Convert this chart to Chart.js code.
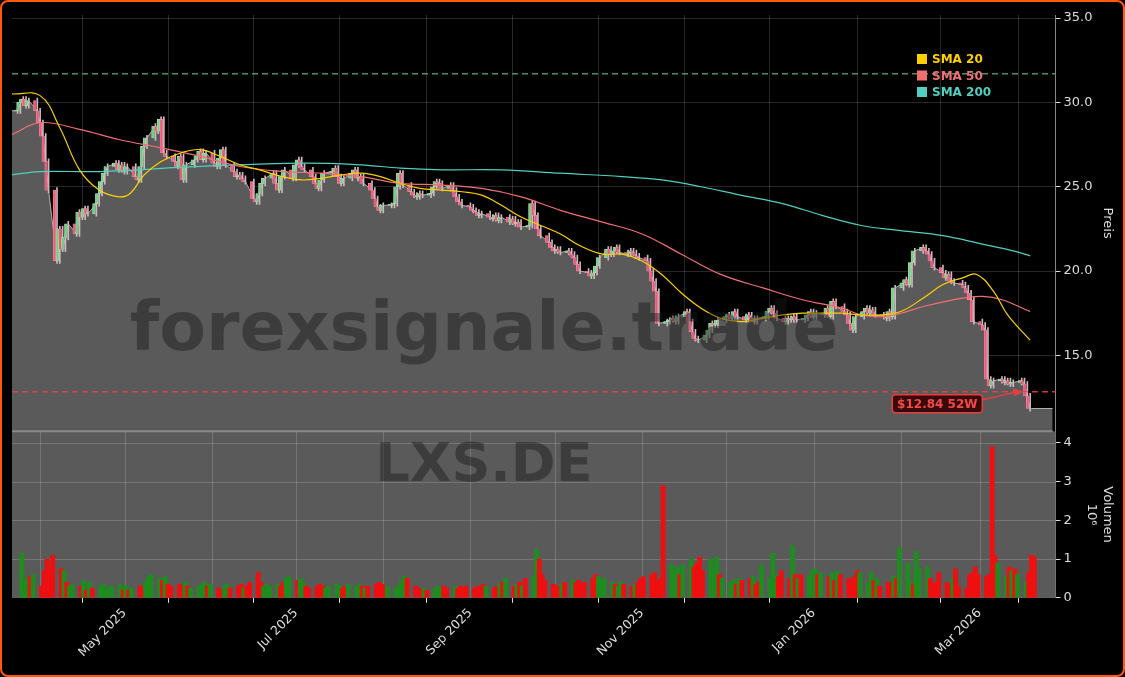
<!DOCTYPE html>
<html>
<head>
<meta charset="utf-8">
<script src="https://cdn.jsdelivr.net/npm/chart.js@4"></script>
<style>
  html, body { margin: 0; padding: 0; background: #000; }
  #wrap { position: absolute; left: 0; top: 0; width: 1121px; height: 673px; border: 2px solid #ff5a0a; border-radius: 8px; background: #000; overflow: hidden; }
  canvas { display: block; }
</style>
</head>
<body>
<div id="wrap"><canvas id="myChart" width="1121" height="673"></canvas></div>
<script>
// day 0 = 2025-03-22 ; first trading day Mon 2025-03-24
const startDate = new Date(Date.UTC(2025, 2, 22));

// daily closes, grouped per week (Mon..Fri)
const closes = [
  29.5, 30.0, 30.2, 29.8, 30.1,
  29.5, 28.8, 28.0, 26.5, 24.8,
  20.6, 22.5, 21.3, 22.0, 22.8,
  22.2, 23.5, 23.2, 23.7, 23.4,
  24.0, 24.6, 25.3, 25.8, 26.2,
  26.4, 26.0, 26.3, 25.9, 26.2,
  25.6, 25.4, 26.2, 27.4, 27.9,
  28.6, 28.3, 29.0, 27.0, 26.8,
  26.5, 26.2, 26.8, 25.4, 26.3,
  26.6, 26.8, 27.1, 26.6, 27.0,
  26.4, 26.2, 26.7, 27.2, 26.3,
  25.9, 25.6, 25.7, 25.5, 25.3,
  24.3, 24.1, 24.6, 25.2, 25.5,
  25.8, 25.2, 24.8, 25.6, 26.0,
  25.5, 26.3, 26.6, 26.2, 26.0,
  25.6, 25.2, 24.9, 25.4, 25.8,
  25.9, 26.1, 25.6, 25.2, 25.5,
  25.8, 26.0, 25.5, 25.6, 25.2,
  24.8, 24.3, 23.8, 23.6, 23.9,
  23.9, 24.0, 25.0, 25.8, 25.1,
  24.7, 24.5, 24.4, 24.6, 24.5,
  24.6, 25.0, 25.3, 25.2, 24.9,
  25.1, 24.8, 24.4, 24.1, 23.9,
  23.8, 23.6, 23.5, 23.3, 23.4,
  23.2, 23.1, 23.3, 23.0, 23.2,
  22.9, 23.1, 22.8, 22.9, 22.6,
  22.7, 24.0, 23.3, 22.5, 22.1,
  21.7, 21.4, 21.2, 21.3, 21.1,
  21.2, 21.0, 20.8, 20.4, 20.0,
  19.9, 19.7, 19.9, 20.3, 20.8,
  21.3, 21.0, 21.2, 21.4, 21.1,
  21.0, 21.2, 21.1, 20.9, 20.8,
  20.6, 20.0, 19.4, 18.8, 16.9,
  17.0, 17.1, 17.2, 17.0, 17.3,
  17.6, 17.0, 16.4, 16.0, 15.9,
  16.2, 16.5, 16.9, 16.8, 17.1,
  17.3, 17.4, 17.2, 17.6, 17.3,
  17.1, 17.4, 17.2, 17.0, 17.2,
  17.3, 17.6, 17.8, 17.5, 17.2,
  17.0, 17.2, 17.1, 17.3, 17.1,
  17.2, 17.4, 17.6, 17.3, 17.5,
  17.4, 17.8, 17.3, 18.2, 17.9,
  17.6, 17.4, 16.9, 16.5, 17.3,
  17.6, 17.8, 17.5, 17.7, 17.4,
  17.3, 17.2, 17.6, 17.3, 19.0,
  19.3, 19.5, 19.2, 20.5, 21.2,
  21.4, 21.2, 21.0, 20.6, 20.2,
  19.9, 19.6, 19.8, 19.4, 19.3,
  19.2, 19.0, 18.7, 18.3, 17.0,
  16.8, 16.5, 13.6, 13.2, 13.5,
  13.6, 13.4, 13.5, 13.3, 13.4,
  13.5, 13.3, 12.6, 11.85
];

// daily volume in millions
const volumes = [
  1.15, 0.45, 0.5, 0.55, 0.6,
  0.3, 0.7, 1.0, 0.8, 1.1,
  0.75, 0.7, 0.4, 0.3, 0.35,
  0.3, 0.45, 0.2, 0.4, 0.25,
  0.3, 0.35, 0.2, 0.25, 0.3,
  0.35, 0.2, 0.3, 0.2, 0.25,
  0.3, 0.25, 0.4, 0.55, 0.6,
  0.5, 0.45, 0.55, 0.35, 0.3,
  0.35, 0.3, 0.4, 0.3, 0.25,
  0.3, 0.35, 0.4, 0.3, 0.35,
  0.25, 0.2, 0.3, 0.35, 0.25,
  0.3, 0.35, 0.25, 0.3, 0.4,
  0.65, 0.4, 0.3, 0.35, 0.3,
  0.35, 0.3, 0.4, 0.5, 0.55,
  0.45, 0.5, 0.4, 0.3, 0.25,
  0.3, 0.35, 0.3, 0.25, 0.3,
  0.35, 0.3, 0.25, 0.3, 0.35,
  0.3, 0.35, 0.3, 0.25, 0.3,
  0.35, 0.4, 0.35, 0.3, 0.3,
  0.25, 0.3, 0.45, 0.55, 0.5,
  0.3, 0.25, 0.2, 0.25, 0.2,
  0.25, 0.3, 0.25, 0.3, 0.25,
  0.3, 0.25, 0.3, 0.25, 0.3,
  0.25, 0.3, 0.25, 0.35, 0.3,
  0.25, 0.3, 0.35, 0.4, 0.5,
  0.3, 0.35, 0.4, 0.3, 0.5,
  0.55, 1.25, 1.0, 0.6, 0.45,
  0.35, 0.3, 0.3, 0.35, 0.4,
  0.45, 0.4, 0.45, 0.35, 0.4,
  0.5, 0.6, 0.55, 0.45, 0.5,
  0.4, 0.35, 0.3, 0.4, 0.35,
  0.3, 0.35, 0.4, 0.5, 0.55,
  0.6, 0.65, 0.4, 0.5, 2.9,
  0.85, 0.75, 0.8, 0.6, 0.85,
  1.0, 0.8, 0.9, 1.05, 0.7,
  1.0, 0.75, 1.05, 0.6, 0.5,
  0.4, 0.45, 0.35, 0.5, 0.45,
  0.5, 0.55, 0.35, 0.4, 0.85,
  0.5, 1.15, 0.6, 0.55, 0.7,
  0.5, 1.35, 0.6, 0.5, 0.6,
  0.55, 0.7, 0.75, 0.6, 0.65,
  0.55, 0.65, 0.45, 0.7, 0.6,
  0.5, 0.45, 0.55, 0.7, 0.65,
  0.4, 0.65, 0.45, 0.5, 0.3,
  0.4, 0.4, 0.55, 0.5, 1.3,
  0.9, 0.4, 0.35, 1.2, 0.75,
  0.8, 0.5, 0.35, 0.4, 0.65,
  0.4, 0.3, 0.5, 0.75, 0.3,
  0.25, 0.6, 0.65, 0.8, 0.6,
  0.55, 0.6, 3.9, 1.1, 0.9,
  0.55, 0.8, 0.7, 0.75, 0.6,
  0.4, 0.65, 1.1, 1.05
];

// moving averages (day, value)
const sma20Days = [0, 10, 17, 24, 31, 38, 42, 47, 53, 60, 67, 74, 81, 88, 96, 103, 110, 117, 124, 131, 138, 145, 153, 160, 167, 174, 181, 188, 195, 202, 210, 217, 224, 231, 238, 245, 252, 259, 267, 274, 281, 288, 295, 302, 309, 316, 324, 331, 338, 343, 349, 354, 362];
const sma20Vals = [30.5, 30.4, 28.5, 26.0, 24.8, 24.4, 24.6, 25.7, 26.5, 27.0, 27.2, 26.8, 26.3, 26.0, 25.6, 25.4, 25.5, 25.7, 25.8, 25.6, 25.2, 24.9, 24.8, 24.7, 24.5, 23.9, 23.2, 22.7, 22.2, 21.5, 21.0, 21.0, 20.6, 19.8, 18.7, 17.8, 17.2, 17.0, 17.2, 17.4, 17.5, 17.5, 17.5, 17.4, 17.4, 17.6, 18.4, 19.2, 19.6, 19.8, 18.8, 17.4, 15.9];
const sma50Days = [0, 10, 24, 38, 53, 67, 81, 96, 110, 124, 138, 153, 167, 181, 195, 210, 224, 238, 252, 267, 281, 295, 302, 309, 316, 324, 338, 345, 352, 362];
const sma50Vals = [28.1, 28.8, 28.4, 27.8, 27.3, 26.8, 26.2, 25.9, 25.8, 25.6, 25.2, 25.1, 24.9, 24.4, 23.6, 22.9, 22.2, 21.0, 19.8, 19.0, 18.3, 17.8, 17.4, 17.3, 17.5, 17.9, 18.4, 18.5, 18.3, 17.6];
const sma200Days = [0, 10, 31, 67, 103, 124, 138, 153, 174, 195, 217, 231, 245, 259, 274, 288, 302, 316, 331, 345, 356, 362];
const sma200Vals = [25.7, 25.9, 25.9, 26.2, 26.4, 26.3, 26.1, 26.0, 26.0, 25.8, 25.6, 25.4, 25.0, 24.5, 24.0, 23.3, 22.7, 22.4, 22.1, 21.6, 21.2, 20.9];

const high52 = 31.7;
const low52 = 12.84;
const lastDay = 370;   // fill of the price area runs until here
const wick = 0.15;

function tradingDay(i) { return 2 + 7 * Math.floor(i / 5) + (i % 5); }
function dayOf(y, m) { return Math.round((Date.UTC(y, m, 1) - startDate) / 86400000); }
const monthNames = ['Jan','Feb','Mar','Apr','May','Jun','Jul','Aug','Sep','Oct','Nov','Dec'];
const monthTicks = [];
for (let k = 0; k < 12; k++) {
  const y = 2025 + Math.floor((3 + k) / 12), m = (3 + k) % 12;
  monthTicks.push({ value: dayOf(y, m), label: (m % 2 === 0) ? monthNames[m] + ' ' + y : '' });
}

const days = closes.map((c, i) => tradingDay(i));
const opens = closes.map((c, i) => i === 0 ? c : closes[i - 1]);
const up = closes.map((c, i) => c >= opens[i]);

const areaData = [{ x: 0, y: closes[0] }].concat(days.map((d, i) => ({ x: d, y: closes[i] })));
areaData.push({ x: days[days.length - 1] + 0.5, y: closes[closes.length - 1] });
areaData.push({ x: lastDay, y: closes[closes.length - 1] });

const bodyData = days.map((d, i) => ({ x: d, y: [opens[i], closes[i] === opens[i] ? closes[i] + 0.05 : closes[i]] }));
const wickData = days.map((d, i) => ({ x: d, y: [Math.min(opens[i], closes[i]) - wick, Math.max(opens[i], closes[i]) + wick] }));
const volData = days.map((d, i) => ({ x: d, y: volumes[i] }));
const pairs = (ds, vs) => ds.map((d, i) => ({ x: d, y: vs[i] }));

const volPanelPlugin = {
  id: 'volPanel',
  beforeDatasetsDraw(chart) {
    const ctx = chart.ctx, v = chart.scales.vol, x = chart.scales.x;
    ctx.save();
    ctx.fillStyle = '#5a5a5a';
    ctx.fillRect(x.left, v.top, x.right - x.left, v.bottom - v.top);
    ctx.strokeStyle = 'rgba(200,200,200,0.25)';
    ctx.lineWidth = 1;
    monthTicks.forEach(t => {
      const px = Math.round(x.getPixelForValue(t.value)) + 0.5;
      ctx.beginPath(); ctx.moveTo(px, v.top); ctx.lineTo(px, v.bottom); ctx.stroke();
    });
    [1, 2, 3, 4].forEach(t => {
      const py = Math.round(v.getPixelForValue(t)) + 0.5;
      ctx.beginPath(); ctx.moveTo(x.left, py); ctx.lineTo(x.right, py); ctx.stroke();
    });
    ctx.restore();
  },
  afterDatasetsDraw(chart) {
    const ctx = chart.ctx, x = chart.scales.x, p = chart.scales.price;
    ctx.save();
    ctx.strokeStyle = '#8a8a8a';
    ctx.lineWidth = 2;
    ctx.beginPath(); ctx.moveTo(x.left, p.bottom); ctx.lineTo(x.getPixelForValue(lastDay), p.bottom); ctx.stroke();
    // watermark
    ctx.fillStyle = 'rgba(25,25,25,0.45)';
    ctx.textAlign = 'center'; ctx.textBaseline = 'middle';
    ctx.font = 'bold 68px "DejaVu Sans"';
    ctx.fillText('forexsignale.trade', 482, 330);
    ctx.font = 'bold 54px "DejaVu Sans"';
    ctx.fillText('LXS.DE', 482, 465);
    // dashed 52W lines
    ctx.lineWidth = 1.5;
    ctx.setLineDash([6, 4]);
    ctx.strokeStyle = 'rgba(90,170,110,0.85)';
    let py = p.getPixelForValue(high52);
    ctx.beginPath(); ctx.moveTo(x.left, py); ctx.lineTo(x.right, py); ctx.stroke();
    ctx.strokeStyle = 'rgba(230,70,70,0.85)';
    py = p.getPixelForValue(low52);
    ctx.beginPath(); ctx.moveTo(x.left, py); ctx.lineTo(x.right, py); ctx.stroke();
    ctx.setLineDash([]);
    // label + arrow
    const bx = x.getPixelForValue(313), by = py + 3, bw = 90, bh = 18;
    const ax = x.getPixelForValue(359);
    ctx.strokeStyle = '#e04040'; ctx.lineWidth = 1.5;
    ctx.beginPath(); ctx.moveTo(bx + bw, by + 5); ctx.lineTo(ax - 6, py + 0.5); ctx.stroke();
    ctx.fillStyle = '#e04040';
    ctx.beginPath(); ctx.moveTo(ax + 2, py); ctx.lineTo(ax - 9, py - 3.5); ctx.lineTo(ax - 7, py + 4.5); ctx.closePath(); ctx.fill();
    ctx.fillStyle = '#3a0a0a';
    ctx.beginPath(); ctx.roundRect(bx, by, bw, bh, 3); ctx.fill(); ctx.stroke();
    ctx.fillStyle = '#f04a4a';
    ctx.font = 'bold 12px "DejaVu Sans"';
    ctx.fillText('$12.84 52W', bx + bw / 2, by + bh / 2 + 1);
    // legend
    const items = [['SMA 20', '#ffd000'], ['SMA 50', '#f07070'], ['SMA 200', '#50d0c0']];
    ctx.textAlign = 'left';
    items.forEach((it, k) => {
      const ly = 57 + k * 16.5;
      ctx.fillStyle = it[1];
      ctx.fillRect(915, ly - 5, 10, 10);
      ctx.fillText(it[0], 930, ly + 1);
    });
    ctx.restore();
  }
};

const ChartCanvas = document.getElementById('myChart');
const gridColor = 'rgba(200,200,200,0.2)';
const tickColor = '#dddddd';

new Chart(ChartCanvas, {
  data: {
    datasets: [
      { type: 'line', label: 'SMA 20', data: pairs(sma20Days, sma20Vals), yAxisID: 'price', borderColor: '#ffd000', borderWidth: 1.2, pointRadius: 0, tension: 0.4, order: 1 },
      { type: 'line', label: 'SMA 50', data: pairs(sma50Days, sma50Vals), yAxisID: 'price', borderColor: '#f07070', borderWidth: 1.2, pointRadius: 0, tension: 0.4, order: 1 },
      { type: 'line', label: 'SMA 200', data: pairs(sma200Days, sma200Vals), yAxisID: 'price', borderColor: '#50d0c0', borderWidth: 1.2, pointRadius: 0, tension: 0.4, order: 1 },
      { type: 'bar', label: 'wick', data: wickData, yAxisID: 'price', backgroundColor: '#d0b8c0', barThickness: 1, order: 3 },
      { type: 'bar', label: 'body', data: bodyData, yAxisID: 'price', backgroundColor: up.map(u => u ? '#6fd07e' : '#f0587a'), borderColor: up.map(u => u ? '#bfeec6' : '#f7a0b4'), borderWidth: 0.5, borderSkipped: false, barThickness: 2.5, order: 2 },
      { type: 'line', label: 'close', data: areaData, yAxisID: 'price', borderColor: '#b0b0b0', borderWidth: 1, backgroundColor: '#5a5a5a', fill: 'start', pointRadius: 0, tension: 0, order: 4 },
      { type: 'bar', label: 'vol', data: volData, yAxisID: 'vol', backgroundColor: up.map(u => u ? '#1e8c1e' : '#ee1010'), barThickness: 4.2, order: 5 }
    ]
  },
  options: {
    animation: false,
    responsive: false,
    layout: { padding: { left: 10, top: 13, right: 4, bottom: 12 } },
    plugins: { legend: { display: false }, tooltip: { enabled: false } },
    scales: {
      x: {
        type: 'linear', min: 0, max: 371, offset: false,
        afterBuildTicks: s => { s.ticks = monthTicks.map(t => ({ value: t.value })); },
        ticks: {
          color: tickColor, font: { family: 'DejaVu Sans', size: 12.5 }, maxRotation: 45, minRotation: 45, autoSkip: false,
          callback: v => { const t = monthTicks.find(m => m.value === v); return t ? t.label : ''; }
        },
        grid: { color: gridColor, drawTicks: true, tickLength: 5, tickColor: '#dddddd' },
        border: { color: '#888' }
      },
      price: {
        position: 'right', stack: 'panels', stackWeight: 2.5, min: 10.5, max: 35.18,
        afterBuildTicks: s => { s.ticks = [15, 20, 25, 30, 35].map(v => ({ value: v })); },
        ticks: { color: tickColor, font: { family: 'DejaVu Sans', size: 13 }, callback: v => v.toFixed(1) },
        grid: { color: gridColor, tickLength: 5, tickColor: '#dddddd' },
        border: { color: '#888' },
        title: { display: true, text: 'Preis', color: tickColor, font: { family: 'DejaVu Sans', size: 13 } }
      },
      vol: {
        position: 'right', stack: 'panels', stackWeight: 1, min: 0, max: 4.3,
        afterBuildTicks: s => { s.ticks = [0, 1, 2, 3, 4].map(v => ({ value: v })); },
        ticks: { color: tickColor, font: { family: 'DejaVu Sans', size: 13 } },
        grid: { color: gridColor, tickLength: 5, tickColor: '#dddddd' },
        border: { color: '#888' },
        title: { display: true, text: ['Volumen', '10⁶'], color: tickColor, font: { family: 'DejaVu Sans', size: 13 } }
      }
    }
  },
  plugins: [volPanelPlugin]
});
</script>
</body>
</html>
